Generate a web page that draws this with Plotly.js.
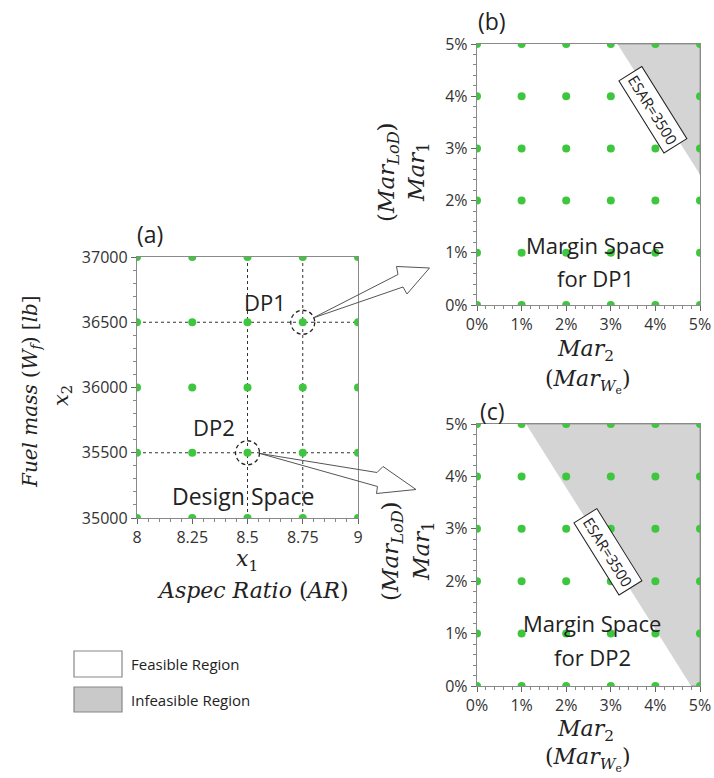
<!DOCTYPE html>
<html>
<head>
<meta charset="utf-8">
<script src="https://cdn.plot.ly/plotly-3.0.1.min.js"></script>
<style>html,body{margin:0;padding:0;background:#fff;}#chart{width:714px;height:778px;}</style>
</head>
<body>
<div id="chart"></div>
<script>
// ---------- data ----------
const aspectRatio = [8, 8.25, 8.5, 8.75, 9];
const aspectTickText = ['8', '8.25', '8.5', '8.75', '9'];
const fuelMass = [35000, 35500, 36000, 36500, 37000];
const fuelTickText = ['35000', '35500', '36000', '36500', '37000'];
const marginPct = [0, 1, 2, 3, 4, 5];
const marginTickText = ['0%', '1%', '2%', '3%', '4%', '5%'];
const dp1 = [8.75, 36500];
const dp2 = [8.5, 35500];
const infeasB_x = [3.15, 5, 5];
const infeasB_y = [5, 5, 2.5];
const infeasC_x = [1.1, 5, 5, 4.8];
const infeasC_y = [5, 5, 0, 0];
const esarLabel = 'ESAR=3500';

// ---------- helpers ----------
const W = 714, H = 778;
const px = v => v / W;
const py = v => 1 - v / H;
const GREEN = '#3ec63e';
const SANS = 'Open Sans';
const SERIF = 'DejaVu Serif';

function grid(xs, ys) {
  const gx = [], gy = [];
  ys.forEach(y => xs.forEach(x => { gx.push(x); gy.push(y); }));
  return {x: gx, y: gy};
}
const gA = grid(aspectRatio, fuelMass);
const gM = grid(marginPct, marginPct);

const traces = [];
// dotted guide lines through DP1 / DP2
[dp1, dp2].forEach(dp => {
  traces.push({x: [dp[0], dp[0]], y: [fuelMass[0], fuelMass[fuelMass.length-1]], xaxis: 'x', yaxis: 'y',
    mode: 'lines', line: {color: '#333', width: 1, dash: 'dot'}, hoverinfo: 'skip', showlegend: false});
  traces.push({x: [aspectRatio[0], aspectRatio[aspectRatio.length-1]], y: [dp[1], dp[1]], xaxis: 'x', yaxis: 'y',
    mode: 'lines', line: {color: '#333', width: 1, dash: 'dot'}, hoverinfo: 'skip', showlegend: false});
});
traces.push({x: gA.x, y: gA.y, xaxis: 'x', yaxis: 'y', mode: 'markers',
  marker: {color: GREEN, size: 8}, showlegend: false});
// infeasible regions
traces.push({x: infeasB_x, y: infeasB_y, xaxis: 'x2', yaxis: 'y2', mode: 'lines', fill: 'toself',
  fillcolor: '#d4d4d4', line: {color: '#9a9a9a', width: 1}, showlegend: false});
traces.push({x: infeasC_x, y: infeasC_y, xaxis: 'x3', yaxis: 'y3', mode: 'lines', fill: 'toself',
  fillcolor: '#d4d4d4', line: {color: '#9a9a9a', width: 1}, showlegend: false});
traces.push({x: gM.x, y: gM.y, xaxis: 'x2', yaxis: 'y2', mode: 'markers',
  marker: {color: GREEN, size: 8}, showlegend: false});
traces.push({x: gM.x, y: gM.y, xaxis: 'x3', yaxis: 'y3', mode: 'markers',
  marker: {color: GREEN, size: 8}, showlegend: false});

function axis(extra) {
  return Object.assign({
    showgrid: false, zeroline: false, showline: true, linecolor: '#8a8a8a', linewidth: 1.2,
    mirror: true, ticks: 'outside', ticklen: 5, tickcolor: '#666', tickwidth: 1,
    tickfont: {family: SANS, size: 16, color: '#333'}, fixedrange: true
  }, extra);
}
const minorPct = {dtick: 0.2, tick0: 0, ticks: 'outside', ticklen: 3, tickcolor: '#888'};

const layout = {
  width: W, height: H, margin: {l: 0, r: 0, t: 0, b: 0},
  paper_bgcolor: '#fff', plot_bgcolor: '#fff', showlegend: false,
  xaxis: axis({domain: [px(137), px(358)], range: [8, 9], anchor: 'y',
    tickmode: 'array', tickvals: aspectRatio, ticktext: aspectTickText,
    minor: {dtick: 0.05, tick0: 8, ticks: 'outside', ticklen: 3, tickcolor: '#888'}}),
  yaxis: axis({domain: [py(518), py(257)], range: [35000, 37000], anchor: 'x',
    tickmode: 'array', tickvals: fuelMass, ticktext: fuelTickText,
    minor: {dtick: 100, tick0: 35000, ticks: 'outside', ticklen: 3, tickcolor: '#888'}}),
  xaxis2: axis({domain: [px(477), px(700)], range: [0, 5], anchor: 'y2',
    tickmode: 'array', tickvals: marginPct, ticktext: marginTickText, minor: minorPct}),
  yaxis2: axis({domain: [py(305), py(44)], range: [0, 5], anchor: 'x2',
    tickmode: 'array', tickvals: marginPct, ticktext: marginTickText, minor: minorPct}),
  xaxis3: axis({domain: [px(477), px(700)], range: [0, 5], anchor: 'y3',
    tickmode: 'array', tickvals: marginPct, ticktext: marginTickText, minor: minorPct}),
  yaxis3: axis({domain: [py(686), py(424)], range: [0, 5], anchor: 'x3',
    tickmode: 'array', tickvals: marginPct, ticktext: marginTickText, minor: minorPct}),
  shapes: [],
  annotations: []
};

// DP circles (radius ~12 px expressed in axis units)
const rX = 12 * (aspectRatio[aspectRatio.length-1] - aspectRatio[0]) / 221;
const rY = 12 * (fuelMass[fuelMass.length-1] - fuelMass[0]) / 261;
[dp1, dp2].forEach(dp => layout.shapes.push({type: 'circle', xref: 'x', yref: 'y',
  x0: dp[0] - rX, x1: dp[0] + rX, y0: dp[1] - rY, y1: dp[1] + rY,
  line: {color: '#222', width: 1.3, dash: '4px,3px'}}));

// hollow arrows (paper coords)
function pathOf(pts) {
  return 'M ' + pts.map(p => px(p[0]).toFixed(5) + ',' + py(p[1]).toFixed(5)).join(' L ') + ' Z';
}
layout.shapes.push({type: 'path', xref: 'paper', yref: 'paper',
  path: pathOf([[313, 318], [398, 274.5], [396.5, 266.5], [429.5, 268], [407, 294], [403, 287]]),
  line: {color: '#555', width: 1}, fillcolor: 'rgba(0,0,0,0)'});
layout.shapes.push({type: 'path', xref: 'paper', yref: 'paper',
  path: pathOf([[260, 453.5], [377, 472.5], [383, 466.5], [416, 489.5], [376.5, 493.5], [377.5, 486.5]]),
  line: {color: '#555', width: 1}, fillcolor: 'rgba(0,0,0,0)'});

// legend boxes
layout.shapes.push({type: 'rect', xref: 'paper', yref: 'paper', x0: px(74), x1: px(122), y0: py(677), y1: py(651),
  line: {color: '#888', width: 1.2}, fillcolor: '#fff'});
layout.shapes.push({type: 'rect', xref: 'paper', yref: 'paper', x0: px(74), x1: px(122), y0: py(712), y1: py(687),
  line: {color: '#888', width: 1.2}, fillcolor: '#c9c9c9'});

function ann(text, x, y, opts) {
  layout.annotations.push(Object.assign({text: text, x: px(x), y: py(y), xref: 'paper', yref: 'paper',
    showarrow: false, xanchor: 'center', yanchor: 'middle',
    font: {family: SANS, size: 23, color: '#222'}}, opts || {}));
}
const serif = (s) => ({font: {family: SERIF, size: s, color: '#222'}});
const rot = (s) => Object.assign(serif(s), {textangle: -90});

// panel labels
ann('(a)', 150, 234);
ann('(b)', 492, 21);
ann('(c)', 492, 411);

// panel (a) titles
ann('<i>x</i><sub>1</sub>', 247, 560, serif(22));
ann('<i>Aspec Ratio</i> (<i>AR</i>)', 253, 590, serif(22));
ann('<i>x</i><sub>2</sub>', 62, 396, rot(21));
ann('<i>Fuel mass</i> (<i>W</i><sub><i>f</i></sub>) [<i>lb</i>]', 31, 392, rot(20));

// panel (b) titles
ann('<i>Mar</i><sub>2</sub>', 585, 350, serif(22));
ann('(<i>Mar</i><sub><i>W</i><sub>e</sub></sub>)', 588, 381, serif(22));
ann('<i>Mar</i><sub>1</sub>', 418, 172, rot(23));
ann('(<i>Mar</i><sub><i>LoD</i></sub>)', 388, 172, rot(23));

// panel (c) titles
ann('<i>Mar</i><sub>2</sub>', 585, 730, serif(22));
ann('(<i>Mar</i><sub><i>W</i><sub>e</sub></sub>)', 588, 759, serif(22));
ann('<i>Mar</i><sub>1</sub>', 423, 551, rot(23));
ann('(<i>Mar</i><sub><i>LoD</i></sub>)', 392, 551, rot(23));

// legend texts
ann('Feasible Region', 129, 664, {xanchor: 'left', font: {family: SANS, size: 15, color: '#222'}});
ann('Infeasible Region', 129, 700, {xanchor: 'left', font: {family: SANS, size: 15, color: '#222'}});

// data-space labels
function dann(text, x, y, xr, yr, opts) {
  layout.annotations.push(Object.assign({text: text, x: x, y: y, xref: xr, yref: yr, showarrow: false,
    xanchor: 'center', yanchor: 'middle', font: {family: SANS, size: 22, color: '#222'}}, opts || {}));
}
dann('DP1', 8.58, 36655, 'x', 'y');
dann('DP2', 8.35, 35697, 'x', 'y');
dann('Design Space', 8.48, 35170, 'x', 'y', {font: {family: SANS, size: 23, color: '#222'}});
dann('Margin Space', 2.65, 1.15, 'x2', 'y2');
dann('for DP1', 2.65, 0.52, 'x2', 'y2');
dann('Margin Space', 2.58, 1.2, 'x3', 'y3');
dann('for DP2', 2.58, 0.55, 'x3', 'y3');
const esarStyle = {textangle: 58, bgcolor: '#fff', bordercolor: '#222', borderwidth: 1, borderpad: 3,
  font: {family: SANS, size: 15, color: '#222'}};
dann(esarLabel, 3.95, 3.74, 'x2', 'y2', esarStyle);
dann(esarLabel, 2.94, 2.56, 'x3', 'y3', esarStyle);

Plotly.newPlot('chart', traces, layout, {staticPlot: true, displayModeBar: false});
</script>
</body>
</html>
